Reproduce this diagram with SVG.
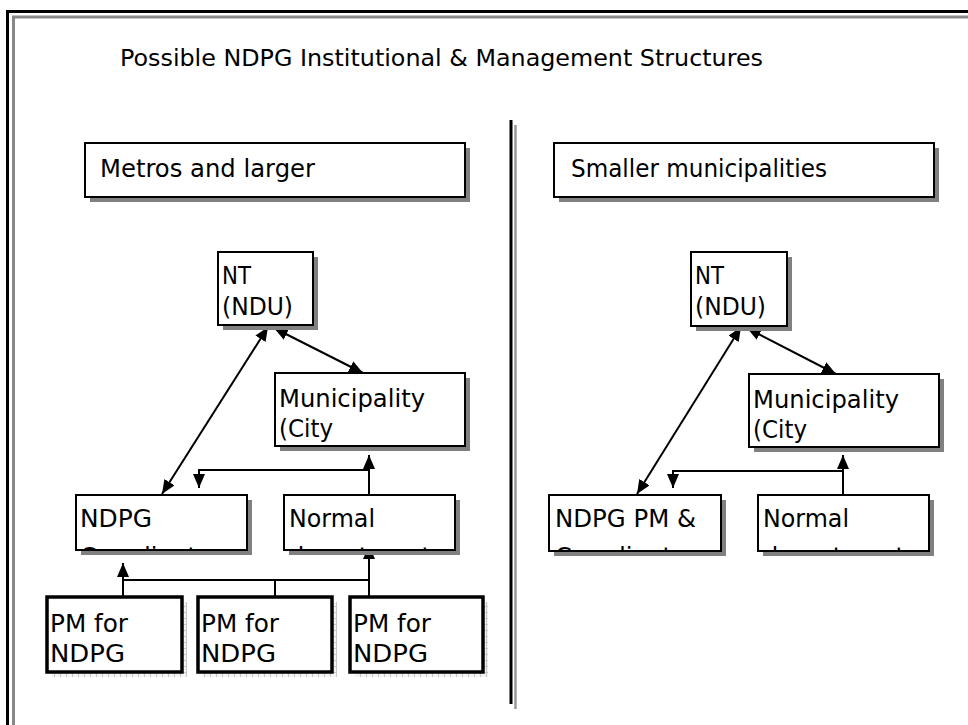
<svg xmlns="http://www.w3.org/2000/svg" width="968" height="725" viewBox="0 0 968 725">
  <style>
    text { font-family: "DejaVu Sans", "Liberation Sans", sans-serif; fill: #000; font-size: 24px; }
    .t { font-size: 23px; }
    .box { fill: #fff; stroke: #000; stroke-width: 2; }
    .pm { fill: #fff; stroke: #000; stroke-width: 3.5; }
    .sh { fill: #808080; }
    .wire { fill: none; stroke: #000; stroke-width: 2; }
  </style>
  <defs>
    <marker id="ah" viewBox="0 0 14 12" refX="14" refY="6" markerWidth="14" markerHeight="12" markerUnits="userSpaceOnUse" orient="auto-start-reverse">
      <path d="M0,0 L14,6 L0,12 Z" fill="#000"/>
    </marker>
    <pattern id="grid" width="6" height="6" patternUnits="userSpaceOnUse">
      <rect width="6" height="6" fill="#f4f4f4"/>
      <path d="M0,0.5 H6 M0.5,0 V6" stroke="#c8c8c8" stroke-width="1"/>
    </pattern>
    <clipPath id="c-ndpg"><rect x="77" y="496" width="169" height="53"/></clipPath>
    <clipPath id="c-norm1"><rect x="285" y="496" width="169" height="53"/></clipPath>
    <clipPath id="c-ndpg2"><rect x="550" y="496" width="170" height="54"/></clipPath>
    <clipPath id="c-norm2"><rect x="759" y="496" width="169" height="54"/></clipPath>
  </defs>

  <!-- page frame -->
  <g id="frame">
    <rect x="7.5" y="11.5" width="1000" height="760" fill="none" stroke="#000" stroke-width="3"/>
    <rect x="13.5" y="17" width="1000" height="760" fill="none" stroke="#888" stroke-width="3"/>
    <line x1="511" y1="120" x2="511" y2="704" stroke="#000" stroke-width="3"/>
    <line x1="515.5" y1="125" x2="515.5" y2="709" stroke="#999" stroke-width="2.5"/>
  </g>

  <text id="title" class="t" x="120" y="66" textLength="643" lengthAdjust="spacingAndGlyphs">Possible NDPG Institutional &amp; Management Structures</text>

  <!-- connectors -->
  <g id="connectors">
    <!-- left: metros -->
    <line class="wire" x1="268" y1="327" x2="162" y2="494" marker-start="url(#ah)" marker-end="url(#ah)"/>
    <line class="wire" x1="274" y1="328" x2="363" y2="373" marker-start="url(#ah)" marker-end="url(#ah)"/>
    <path class="wire" d="M369,495 V455" marker-end="url(#ah)"/>
    <path class="wire" d="M369,470 H199 V488" marker-end="url(#ah)"/>
    <path class="wire" d="M123,597 V563" marker-end="url(#ah)"/>
    <path class="wire" d="M123,580 H369"/>
    <path class="wire" d="M275,580 V597"/>
    <path class="wire" d="M369,597 V545" marker-end="url(#ah)"/>
    <!-- right: smaller municipalities -->
    <line class="wire" x1="741" y1="327" x2="637" y2="494" marker-start="url(#ah)" marker-end="url(#ah)"/>
    <line class="wire" x1="747" y1="328" x2="836" y2="374" marker-start="url(#ah)" marker-end="url(#ah)"/>
    <path class="wire" d="M843,495 V455" marker-end="url(#ah)"/>
    <path class="wire" d="M843,471 H673 V488" marker-end="url(#ah)"/>
  </g>

  <!-- section headers -->
  <g id="hdr-metros">
    <rect class="sh" x="90" y="148" width="380" height="54"/>
    <rect class="box" x="85" y="143" width="380" height="54"/>
    <text x="100" y="177" textLength="215" lengthAdjust="spacingAndGlyphs">Metros and larger</text>
  </g>
  <g id="hdr-smaller">
    <rect class="sh" x="559" y="148" width="380" height="54"/>
    <rect class="box" x="554" y="143" width="380" height="54"/>
    <text x="571" y="177" textLength="256" lengthAdjust="spacingAndGlyphs">Smaller municipalities</text>
  </g>

  <!-- left tree -->
  <g id="nt-left">
    <rect class="sh" x="223" y="257" width="95" height="73"/>
    <rect class="box" x="218" y="252" width="95" height="73"/>
    <text x="222" y="284" textLength="29" lengthAdjust="spacingAndGlyphs">NT</text>
    <text x="222" y="315" textLength="71" lengthAdjust="spacingAndGlyphs">(NDU)</text>
  </g>
  <g id="muni-left">
    <rect class="sh" x="280" y="378" width="190" height="73"/>
    <rect class="box" x="275" y="373" width="190" height="73"/>
    <text x="279" y="407" textLength="146" lengthAdjust="spacingAndGlyphs">Municipality</text>
    <text x="279" y="437" textLength="54" lengthAdjust="spacingAndGlyphs">(City</text>
  </g>
  <g id="ndpg-left">
    <rect class="sh" x="81" y="500" width="171" height="55"/>
    <rect class="box" x="76" y="495" width="171" height="55"/>
    <g clip-path="url(#c-ndpg)">
      <text x="80" y="527" textLength="72" lengthAdjust="spacingAndGlyphs">NDPG</text>
      <text x="80" y="565">Coordinator</text>
    </g>
  </g>
  <g id="normal-left">
    <rect class="sh" x="289" y="500" width="171" height="55"/>
    <rect class="box" x="284" y="495" width="171" height="55"/>
    <g clip-path="url(#c-norm1)">
      <text x="289" y="527" textLength="86" lengthAdjust="spacingAndGlyphs">Normal</text>
      <text x="289" y="565">departments</text>
    </g>
  </g>
  <g id="pm-1">
    <rect x="52" y="602" width="135" height="75" fill="url(#grid)"/>
    <rect class="pm" x="47" y="597" width="135" height="75"/>
    <text x="50" y="632" textLength="78" lengthAdjust="spacingAndGlyphs">PM for</text>
    <text x="50" y="662" textLength="75" lengthAdjust="spacingAndGlyphs">NDPG</text>
  </g>
  <g id="pm-2">
    <rect x="203" y="602" width="134" height="75" fill="url(#grid)"/>
    <rect class="pm" x="198" y="597" width="134" height="75"/>
    <text x="201" y="632" textLength="78" lengthAdjust="spacingAndGlyphs">PM for</text>
    <text x="201" y="662" textLength="75" lengthAdjust="spacingAndGlyphs">NDPG</text>
  </g>
  <g id="pm-3">
    <rect x="355" y="602" width="133" height="75" fill="url(#grid)"/>
    <rect class="pm" x="350" y="597" width="133" height="75"/>
    <text x="353" y="632" textLength="78" lengthAdjust="spacingAndGlyphs">PM for</text>
    <text x="353" y="662" textLength="75" lengthAdjust="spacingAndGlyphs">NDPG</text>
  </g>

  <!-- right tree -->
  <g id="nt-right">
    <rect class="sh" x="696" y="257" width="96" height="74"/>
    <rect class="box" x="691" y="252" width="96" height="74"/>
    <text x="695" y="284" textLength="29" lengthAdjust="spacingAndGlyphs">NT</text>
    <text x="695" y="315" textLength="71" lengthAdjust="spacingAndGlyphs">(NDU)</text>
  </g>
  <g id="muni-right">
    <rect class="sh" x="754" y="379" width="190" height="73"/>
    <rect class="box" x="749" y="374" width="190" height="73"/>
    <text x="753" y="408" textLength="146" lengthAdjust="spacingAndGlyphs">Municipality</text>
    <text x="753" y="438" textLength="54" lengthAdjust="spacingAndGlyphs">(City</text>
  </g>
  <g id="ndpg-right">
    <rect class="sh" x="554" y="500" width="172" height="56"/>
    <rect class="box" x="549" y="495" width="172" height="56"/>
    <g clip-path="url(#c-ndpg2)">
      <text x="555" y="527" textLength="141" lengthAdjust="spacingAndGlyphs">NDPG PM &amp;</text>
      <text x="555" y="565">Coordinator</text>
    </g>
  </g>
  <g id="normal-right">
    <rect class="sh" x="763" y="500" width="171" height="56"/>
    <rect class="box" x="758" y="495" width="171" height="56"/>
    <g clip-path="url(#c-norm2)">
      <text x="763" y="527" textLength="86" lengthAdjust="spacingAndGlyphs">Normal</text>
      <text x="763" y="565">departments</text>
    </g>
  </g>
</svg>
